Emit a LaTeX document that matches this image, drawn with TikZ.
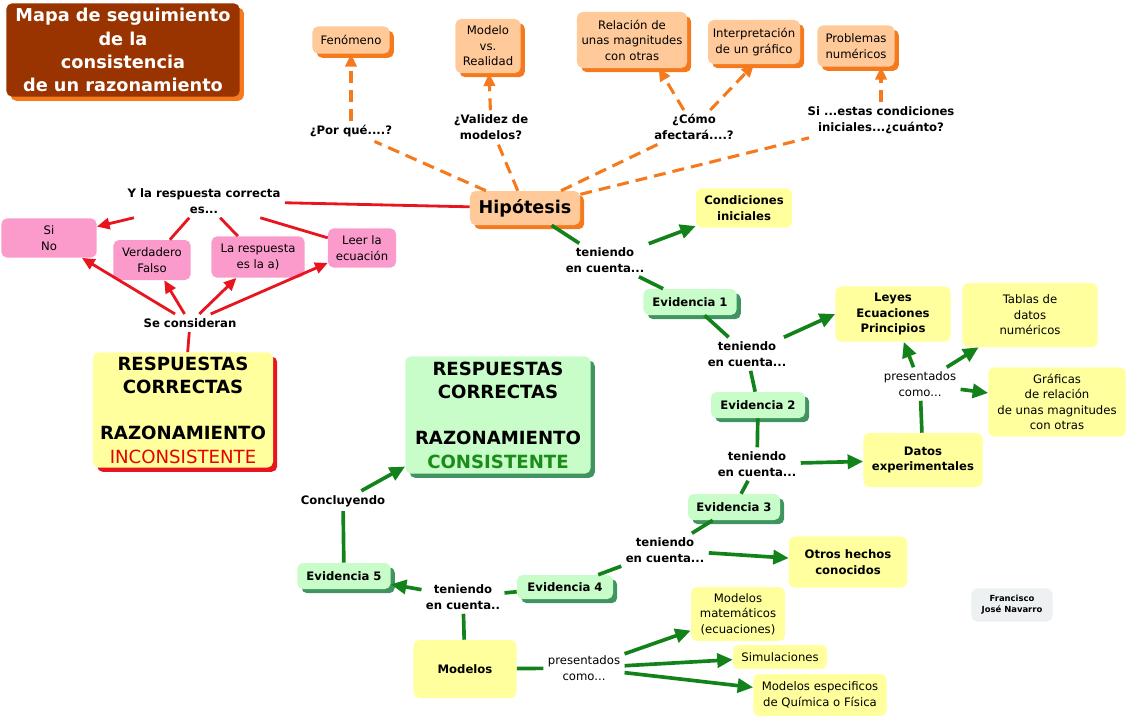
\documentclass[tikz,border=0pt]{standalone}
\usepackage{fontspec}
\setmainfont{DejaVu Sans}
\usepackage{xcolor}
\usetikzlibrary{arrows.meta,shadows}
\definecolor{titlefill}{HTML}{993300}
\definecolor{orangefill}{HTML}{FFC999}
\definecolor{orangeline}{HTML}{F57A1E}
\definecolor{pinkfill}{HTML}{FA9BCB}
\definecolor{yellowfill}{HTML}{FFFF9E}
\definecolor{greenfill}{HTML}{C8FCC8}
\definecolor{greenshadow}{HTML}{3F9460}
\definecolor{greenline}{HTML}{13821A}
\definecolor{redline}{HTML}{E8141E}
\definecolor{inconsred}{HTML}{E60000}
\definecolor{consgreen}{HTML}{1A8C1A}
\definecolor{authorfill}{HTML}{EDF1F2}
\newcommand{\smalltext}{\fontsize{8.3}{11}\selectfont}
\newcommand{\bigtext}{\fontsize{12.9}{16.5}\selectfont\bfseries}

\begin{document}
\begin{tikzpicture}[
    x=0.025cm,
    y=-0.025cm,
    concept/.style={
        rectangle,
        rounded corners=4pt,
        align=center,
        inner sep=2pt,
        font=\smalltext
    },
    orangebox/.style={
        concept,
        fill=orangefill,
        drop shadow={shadow xshift=3pt, shadow yshift=-3pt, fill=orangeline, opacity=1}
    },
    pinkbox/.style={
        concept,
        fill=pinkfill
    },
    yellowbox/.style={
        concept,
        fill=yellowfill
    },
    greenbox/.style={
        concept,
        fill=greenfill,
        font=\smalltext\bfseries,
        drop shadow={shadow xshift=3pt, shadow yshift=-3pt, fill=greenshadow, opacity=1}
    },
    linkword/.style={
        align=center,
        inner sep=3pt,
        font=\smalltext\bfseries
    },
    orangelink/.style={
        draw=orangeline,
        line width=2.2pt,
        dash pattern=on 8.5pt off 5pt,
        -{Triangle[length=9pt,width=8pt]}
    },
    redlink/.style={
        draw=redline,
        line width=2pt,
        -{Triangle[length=9pt,width=8pt]}
    },
    greenlink/.style={
        draw=greenline,
        line width=2.6pt,
        -{Triangle[length=11pt,width=10pt]}
    },
    plain/.style={-}
]

\useasboundingbox (0,0) rectangle (1128,718);

\node[concept, fill=titlefill, text=white, font=\fontsize{12.6}{16.5}\selectfont\bfseries,
    minimum width=5.83cm, minimum height=2.33cm,
    drop shadow={shadow xshift=3pt, shadow yshift=-3pt, fill=orangeline, opacity=1}] (title) at (123,50)
{Mapa de seguimiento\\de la\\consistencia\\de un razonamiento};

\node[orangebox, minimum width=1.93cm, minimum height=0.68cm] (fen) at (351,40)
{Fenómeno};

\node[orangebox, minimum width=1.63cm, minimum height=1.35cm] (modelo) at (488,46)
{Modelo\\vs.\\Realidad};

\node[orangebox, minimum width=2.75cm, minimum height=1.4cm] (relacion) at (632,40)
{Relación de\\unas magnitudes\\con otras};

\node[orangebox, minimum width=2.3cm, minimum height=1.1cm] (interp) at (754,42)
{Interpretación\\de un gráfico};

\node[orangebox, minimum width=1.93cm, minimum height=1.03cm] (prob) at (856,46)
{Problemas\\numéricos};

\node[linkword] (porque) at (351,131)
{¿Por qué....?};

\node[linkword] (validez) at (491,127)
{¿Validez de\\modelos?};

\node[linkword] (como) at (694,127)
{¿Cómo\\afectará....?};

\node[linkword] (sicond) at (881,120)
{Si ...estas condiciones\\iniciales...¿cuánto?};

\node[orangebox, font=\fontsize{12.5}{15}\selectfont\bfseries,
    minimum width=2.75cm, minimum height=0.85cm] (hip) at (525,208)
{Hipótesis};

\node[linkword] (yla) at (204,201)
{Y la respuesta correcta\\es...};

\node[pinkbox, minimum width=2.38cm, minimum height=0.98cm] (sino) at (49,238)
{Si\\No};

\node[pinkbox, minimum width=1.93cm, minimum height=1.0cm] (verdad) at (152,260)
{Verdadero\\Falso};

\node[pinkbox, minimum width=2.33cm, minimum height=1.03cm] (resp) at (258,257)
{La respuesta\\es la a)};

\node[pinkbox, minimum width=1.7cm, minimum height=0.98cm] (leer) at (362,248)
{Leer la\\ecuación};

\node[linkword] (secons) at (190,323)
{Se consideran};

\node[concept, fill=yellowfill, font=\bigtext,
    minimum width=4.5cm, minimum height=2.88cm,
    drop shadow={shadow xshift=3pt, shadow yshift=-3pt, fill=redline, opacity=1}] (incons) at (183,410)
{RESPUESTAS\\CORRECTAS\\[16.5pt]RAZONAMIENTO\\{\mdseries\color{inconsred}INCONSISTENTE}};

\node[concept, fill=greenfill, font=\bigtext,
    minimum width=4.63cm, minimum height=2.93cm,
    drop shadow={shadow xshift=3pt, shadow yshift=-3pt, fill=greenshadow, opacity=1}] (cons) at (498,415)
{RESPUESTAS\\CORRECTAS\\[16.5pt]RAZONAMIENTO\\{\color{consgreen}CONSISTENTE}};

\node[linkword] (ten1) at (605,260)
{teniendo\\en cuenta...};

\node[yellowbox, font=\smalltext\bfseries, minimum width=2.4cm, minimum height=0.98cm] (condic) at (744,208)
{Condiciones\\iniciales};

\node[greenbox, minimum width=2.33cm, minimum height=0.65cm] (ev1) at (690,302)
{Evidencia 1};

\node[linkword] (ten2) at (747,354)
{teniendo\\en cuenta...};

\node[yellowbox, font=\smalltext\bfseries, minimum width=2.88cm, minimum height=1.38cm] (leyes) at (893,314)
{Leyes\\Ecuaciones\\Principios};

\node[greenbox, minimum width=2.35cm, minimum height=0.65cm] (ev2) at (758,405)
{Evidencia 2};

\node[linkword] (ten3) at (757,464)
{teniendo\\en cuenta...};

\node[yellowbox, font=\smalltext\bfseries, minimum width=2.98cm, minimum height=1.35cm] (datos) at (923,460)
{Datos\\experimentales};

\node[linkword, font=\smalltext] (pres1) at (920,384)
{presentados\\como...};

\node[yellowbox, minimum width=3.38cm, minimum height=1.6cm] (tablas) at (1030,315)
{Tablas de\\datos\\numéricos};

\node[yellowbox, minimum width=3.43cm, minimum height=1.73cm] (graf) at (1057,402)
{Gráficas\\de relación\\de unas magnitudes\\con otras};

\node[greenbox, minimum width=2.3cm, minimum height=0.65cm] (ev3) at (734,507)
{Evidencia 3};

\node[linkword] (ten4) at (665,550)
{teniendo\\en cuenta...};

\node[yellowbox, font=\smalltext\bfseries, minimum width=2.95cm, minimum height=1.28cm] (otros) at (848,562)
{Otros hechos\\conocidos};

\node[greenbox, minimum width=2.4cm, minimum height=0.6cm] (ev4) at (565,587)
{Evidencia 4};

\node[linkword] (ten5) at (463,597)
{teniendo\\en cuenta..};

\node[greenbox, minimum width=2.33cm, minimum height=0.65cm] (ev5) at (344,576)
{Evidencia 5};

\node[linkword] (concl) at (343,501)
{Concluyendo};

\node[yellowbox, font=\smalltext\bfseries, minimum width=2.58cm, minimum height=1.45cm] (modelos) at (465,669)
{Modelos};

\node[linkword, font=\smalltext] (pres2) at (584,668)
{presentados\\como...};

\node[yellowbox, minimum width=2.35cm, minimum height=1.35cm] (matem) at (738,614)
{Modelos\\matemáticos\\(ecuaciones)};

\node[yellowbox, minimum width=2.35cm, minimum height=0.6cm] (simul) at (780,657)
{Simulaciones};

\node[yellowbox, minimum width=3.33cm, minimum height=1.05cm] (especif) at (820,695)
{Modelos especificos\\de Química o Física};

\node[concept, fill=authorfill, font=\fontsize{6}{8}\selectfont\bfseries,
    minimum width=2.03cm, minimum height=0.83cm] (autor) at (1012,605)
{Francisco\\José Navarro};

\draw[orangelink, plain]
(hip) -- (porque);

\draw[orangelink]
(porque) -- (fen);

\draw[orangelink, plain]
(hip) -- (validez);

\draw[orangelink]
(validez) -- (modelo);

\draw[orangelink, plain]
(hip) -- (como);

\draw[orangelink]
(como) -- ([xshift=19pt]relacion.south);

\draw[orangelink]
(como) -- (interp.south);

\draw[orangelink, plain]
(hip) -- (sicond);

\draw[orangelink]
(sicond.north) -- (sicond.north |- prob.south);

\draw[redlink, plain]
(yla) -- (hip);

\draw[redlink]
(yla) -- (sino);

\draw[redlink, plain]
(yla) -- (verdad);

\draw[redlink, plain]
(yla) -- (resp);

\draw[redlink, plain]
(yla) -- (leer);

\draw[redlink]
(secons) -- (sino);

\draw[redlink]
(secons) -- (verdad);

\draw[redlink]
(secons) -- (resp);

\draw[redlink]
(secons) -- (leer);

\draw[redlink, plain]
(secons) -- (incons);

\draw[greenlink, plain]
(hip) -- (ten1);

\draw[greenlink]
(ten1) -- (condic);

\draw[greenlink, plain]
(ten1) -- (ev1);

\draw[greenlink, plain]
(ev1) -- (ten2);

\draw[greenlink]
(ten2) -- (leyes.west);

\draw[greenlink, plain]
(ten2) -- (ev2);

\draw[greenlink, plain]
(ev2) -- (ten3);

\draw[greenlink]
(ten3) -- (datos);

\draw[greenlink, plain]
(datos) -- (pres1);

\draw[greenlink]
(pres1) -- (leyes);

\draw[greenlink]
(pres1) -- (tablas);

\draw[greenlink]
(pres1) -- (graf);

\draw[greenlink, plain]
(ten3) -- (ev3);

\draw[greenlink, plain]
(ev3) -- (ten4);

\draw[greenlink]
(ten4) -- (otros);

\draw[greenlink, plain]
(ten4) -- (ev4);

\draw[greenlink, plain]
(ev4) -- (ten5);

\draw[greenlink]
(ten5) -- (ev5);

\draw[greenlink, plain]
(modelos) -- (ten5);

\draw[greenlink, plain]
(ev5) -- (concl);

\draw[greenlink]
(concl) -- (cons);

\draw[greenlink, plain]
(modelos) -- (pres2);

\draw[greenlink]
(pres2) -- (matem);

\draw[greenlink]
(pres2) -- (simul);

\draw[greenlink]
(pres2) -- (especif);

\end{tikzpicture}
\end{document}
